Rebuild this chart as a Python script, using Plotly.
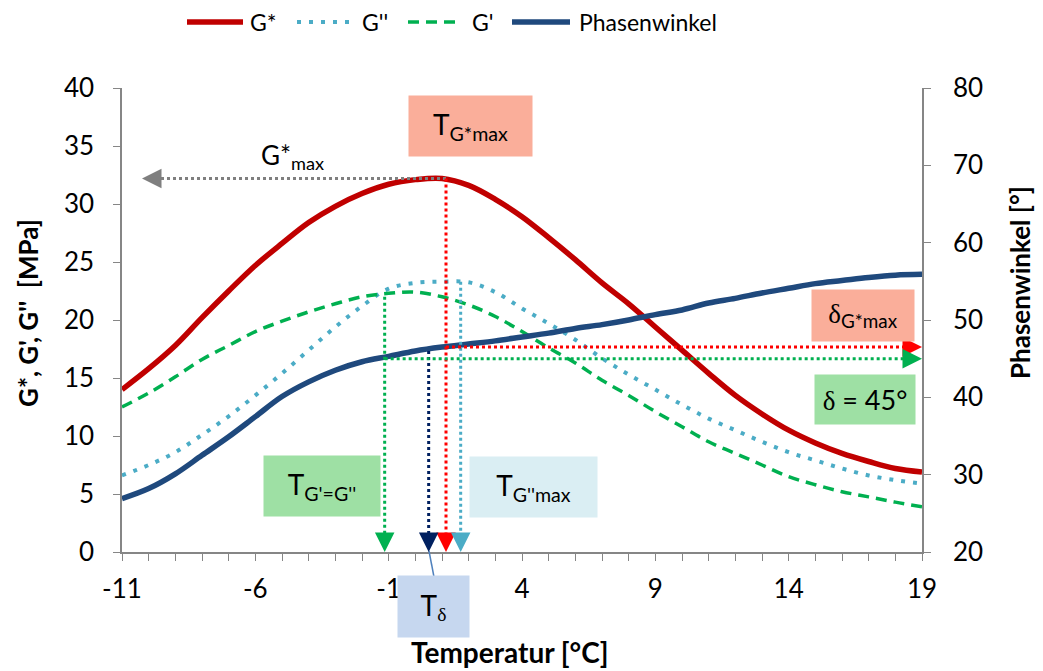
import plotly.graph_objects as go

# ---------------- data ----------------
temperature = list(range(-11, 20))
g_star = [14.0, 15.8, 17.8, 20.2, 22.5, 24.7, 26.6, 28.4, 29.8, 30.9, 31.7, 32.1, 32.2, 31.6, 30.4,
          28.9, 27.1, 25.2, 23.2, 21.4, 19.4, 17.4, 15.4, 13.5, 11.9, 10.5, 9.4, 8.5, 7.8, 7.2, 6.9]
g_loss = [6.6, 7.5, 8.6, 10.1, 11.7, 13.5, 15.4, 17.4, 19.4, 21.2, 22.7, 23.2, 23.3, 23.25, 22.4,
          21.0, 19.7, 18.3, 16.7, 15.3, 14.0, 12.7, 11.5, 10.5, 9.5, 8.6, 7.9, 7.2, 6.6, 6.2, 5.9]
g_storage = [12.5, 13.7, 15.1, 16.6, 17.8, 19.0, 19.9, 20.7, 21.4, 22.0, 22.3, 22.4, 22.0, 21.3, 20.3,
             19.0, 17.6, 16.3, 14.8, 13.5, 12.1, 10.8, 9.5, 8.5, 7.5, 6.5, 5.8, 5.2, 4.75, 4.3, 3.9]
phase = [26.9, 28.2, 30.1, 32.5, 34.9, 37.5, 40.1, 42.0, 43.5, 44.6, 45.3, 46.0, 46.5, 46.9, 47.3,
         47.8, 48.3, 48.9, 49.4, 50.0, 50.7, 51.3, 52.2, 52.8, 53.5, 54.1, 54.7, 55.1, 55.5, 55.8, 55.9]

x_ticks = [-11, -6, -1, 4, 9, 14, 19]
x_tick_labels = ["-11", "-6", "-1", "4", "9", "14", "19"]
series_names = ["G*", "G''", "G'", "Phasenwinkel"]

# characteristic values
T_gstar_max, gstar_max = 1.15, 32.2
T_gloss_max, gloss_max = 1.7, 23.3
T_cross, g_cross = -1.15, 22.0
T_delta, delta_at_T = 0.5, 46.0
delta_gstar_max = 46.5
delta_45 = 45.0
gstar_arrow_end = -10.25

FONT = "Lato, Carlito, Calibri, sans-serif"
SERIF = "Liberation Serif"
RED, LBLUE, GREEN, NAVY = "#C00000", "#4BACC6", "#00B050", "#1F497D"
styles = [dict(color=RED, width=5.5),
          dict(color=LBLUE, width=4, dash="4px,8px"),
          dict(color=GREEN, width=3.5, dash="11px,7px"),
          dict(color=NAVY, width=5.5)]

fig = go.Figure()
for name, ys, st, ax in zip(series_names, [g_star, g_loss, g_storage, phase], styles, ["y", "y", "y", "y2"]):
    fig.add_trace(go.Scatter(x=temperature, y=ys, name=name, mode="lines", line_shape="spline",
                             line=st, yaxis=ax, showlegend=False))

# ---------- dotted guide lines ----------
def dotted(x0, y0, x1, y1, color, yref="y"):
    fig.add_shape(type="line", x0=x0, y0=y0, x1=x1, y1=y1, xref="x", yref=yref,
                  line=dict(color=color, width=3, dash="3px,3px"), layer="above")

def head(x, y, ax, ay, color, yref="y"):
    fig.add_annotation(x=x, y=y, xref="x", yref=yref, ax=ax, ay=ay, text="", showarrow=True,
                       arrowhead=2, arrowsize=1.5, arrowwidth=2.6, arrowcolor=color, standoff=0)

dotted(T_gstar_max, gstar_max, gstar_arrow_end + 0.4, gstar_max, "#7F7F7F")
head(gstar_arrow_end, gstar_max, 16, 0, "#7F7F7F")
dotted(T_gstar_max, gstar_max, T_gstar_max, 1.2, "#FF0000")
head(T_gstar_max, 0, 0, -16, "#FF0000")
dotted(T_gloss_max, gloss_max, T_gloss_max, 1.2, LBLUE)
head(T_gloss_max, 0, 0, -16, LBLUE)
dotted(T_cross, g_cross, T_cross, 1.2, GREEN)
head(T_cross, 0, 0, -16, GREEN)
dotted(T_delta, delta_at_T, T_delta, 21.8, "#002060", yref="y2")
head(T_delta, 20, 0, -16, "#002060", yref="y2")
dotted(T_gstar_max, delta_gstar_max, 18.4, delta_gstar_max, "#FF0000", yref="y2")
head(19, delta_gstar_max, -16, 0, "#FF0000", yref="y2")
dotted(T_cross, delta_45, 18.4, delta_45, GREEN, yref="y2")
head(19, delta_45, -16, 0, GREEN, yref="y2")

# ---------- label boxes ----------
L, R, T, B = 122, 922, 88, 552

def px2paper(px, py):
    return (px - L) / (R - L), (B - py) / (B - T)

def box(cx, cy, w, h, text, bg, size=28):
    xp, yp = px2paper(cx, cy)
    fig.add_annotation(x=xp, y=yp, xref="paper", yref="paper", text=text, showarrow=False,
                       xanchor="center", yanchor="middle",
                       width=w, height=h, bgcolor=bg, align="center", valign="middle",
                       font=dict(family=FONT, size=size, color="#000000"))

def label(cx, cy, text, size, angle=0):
    xp, yp = px2paper(cx, cy)
    fig.add_annotation(x=xp, y=yp, xref="paper", yref="paper", text=text, showarrow=False,
                       xanchor="center", yanchor="middle", textangle=angle,
                       font=dict(family=FONT, size=size, color="#000000"))

d = f"<span style='font-family:{SERIF}'>δ</span>"
box(470, 126, 121, 58, "T<sub>G*max</sub>", "#FAAE9A")
box(863, 315, 100, 49, f"{d}<sub>G*max</sub>", "#FAAE9A", size=27)
box(865, 399, 98, 47, f"{d} = 45°", "#9EE0A4", size=27)
box(322, 486, 114, 58, "T<sub>G'=G''</sub>", "#9EE0A4")
box(533, 487, 125, 58, "T<sub>G''max</sub>", "#DAEEF3")
box(433, 606, 69, 59, f"T<sub>{d}</sub>", "#C6D7EF")

label(292, 157, "G*<sub>max</sub>", 26)

# axis titles
label(510, 652, "<b>Temperatur [°C]</b>", 28)
label(28, 313, "<b>G*, G', G''  [MPa]</b>", 26, angle=-90)
label(1020, 283, "<b>Phasenwinkel [°]</b>", 26, angle=-90)

a = px2paper(429, 551)
b = px2paper(434, 577)
fig.add_shape(type="line", xref="paper", yref="paper", x0=a[0], y0=a[1], x1=b[0], y1=b[1],
              line=dict(color="#4F81BD", width=1.5))

# ---------- legend (drawn above the plot) ----------
legend_x = [(187, 243, 248), (297, 350, 360), (408, 458, 470), (512, 570, 577)]
for (x0, x1, xt), name, st in zip(legend_x, series_names, styles):
    p0 = px2paper(x0, 22)
    p1 = px2paper(x1, 22)
    fig.add_shape(type="line", xref="paper", yref="paper", x0=p0[0], y0=p0[1], x1=p1[0], y1=p1[1],
                  line=st)
    pt = px2paper(xt, 22)
    fig.add_annotation(x=pt[0], y=pt[1], xref="paper", yref="paper", text=name, showarrow=False,
                       xanchor="left", yanchor="middle", font=dict(family=FONT, size=23, color="#000000"))

AX = "#868686"
TICKF = dict(size=26, family=FONT, color="#000000")
fig.update_layout(
    width=1043, height=671,
    margin=dict(l=L, r=1043 - R, t=T, b=671 - B, autoexpand=False),
    paper_bgcolor="white", plot_bgcolor="white",
    font=dict(family=FONT, size=20, color="#000000"),
    showlegend=False,
    xaxis=dict(range=[-11, 19], tickvals=x_ticks, ticktext=x_tick_labels, ticks="outside", ticklen=7,
               tickcolor=AX, automargin=False, ticklabelstandoff=6,
               showline=True, linecolor=AX, linewidth=1.5, showgrid=False, zeroline=False,
               minor=dict(dtick=1, tick0=-11, ticks="outside", ticklen=7, tickcolor=AX, showgrid=False),
               tickfont=TICKF),
    yaxis=dict(range=[0, 40], dtick=5, ticks="outside", ticklen=7, tickcolor=AX, automargin=False,
               ticklabelstandoff=14,
               showline=True, linecolor=AX, linewidth=1.5, showgrid=False, zeroline=False,
               tickfont=TICKF),
    yaxis2=dict(range=[20, 80], dtick=10, overlaying="y", side="right", ticks="outside", ticklen=7,
                tickcolor=AX, automargin=False, ticklabelstandoff=17,
                showline=True, linecolor=AX, linewidth=1.5, showgrid=False, zeroline=False,
                tickfont=TICKF),
)

fig.write_html("out.html", config={"displayModeBar": False},
               post_script="document.body.style.margin='0px';")
